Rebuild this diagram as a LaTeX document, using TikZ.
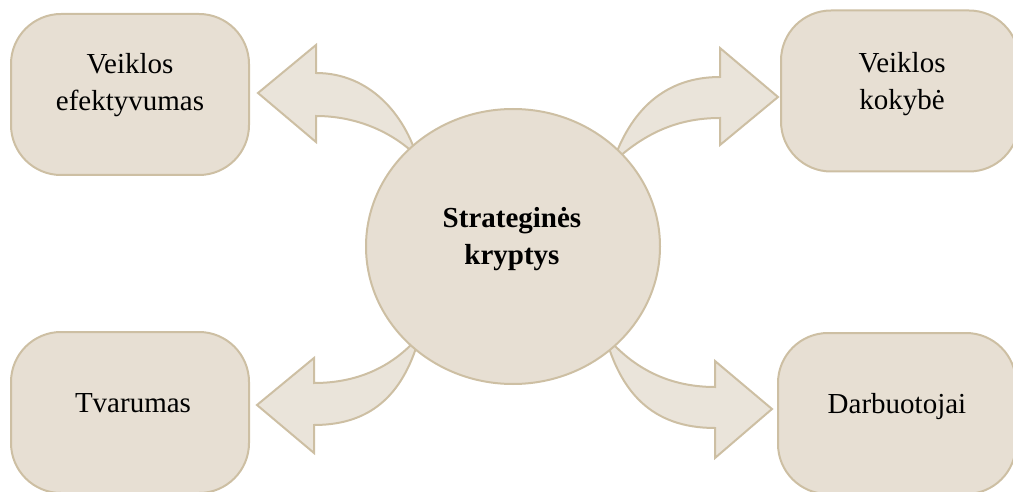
\documentclass[tikz,border=0pt]{standalone}
\usepackage{fontspec}
\setmainfont{Liberation Serif}
\usetikzlibrary{shapes.geometric}
\definecolor{boxfill}{RGB}{231,223,211}
\definecolor{arrfill}{RGB}{234,228,218}
\definecolor{edgecol}{RGB}{205,191,163}
\begin{document}
\begin{tikzpicture}[x=1pt,y=-1pt,
  box/.style={draw=edgecol,fill=boxfill,line width=2pt,rounded corners=50pt,
    minimum width=238pt,minimum height=161pt,inner sep=0pt},
  hub/.style={draw=edgecol,fill=boxfill,line width=2pt,ellipse,
    minimum width=294pt,minimum height=275pt,inner sep=0pt},
  txt/.style={font=\fontsize{29}{36}\selectfont,anchor=base,inner sep=0pt},
  btxt/.style={font=\fontsize{29}{36}\selectfont\bfseries,anchor=base,inner sep=0pt},
  blockarrow/.style={draw=edgecol,fill=arrfill,line width=2pt,line join=miter}]
\useasboundingbox (0,0) rectangle (1013,492);
% boxes
\node[box] (tl) at (130,94.5) {};
\node[box] (tr) at (900,91) {};
\node[box] (bl) at (130,412.5) {};
\node[box] (br) at (897,413.5) {};
% block arrows
\draw[blockarrow] (316,73) .. controls (370,73) and (405,115) .. (418,160) -- (425,165)
  .. controls (400,135) and (360,116) .. (316,116) -- (316,142) -- (258,93) -- (316,45) -- cycle;
\draw[blockarrow] (720,77) .. controls (665,77) and (630,110) .. (612,165) -- (605,170)
  .. controls (640,135) and (675,118) .. (720,118) -- (720,145) -- (778,97) -- (720,48) -- cycle;
\draw[blockarrow] (715,387) .. controls (665,387) and (630,365) .. (605,335)
  .. controls (620,390) and (650,428) .. (715,428) -- (715,458) -- (772,409) -- (715,361) -- cycle;
\draw[blockarrow] (314,383) .. controls (360,383) and (395,365) .. (420,335)
  .. controls (405,390) and (375,425) .. (314,425) -- (314,453) -- (257,405) -- (314,358) -- cycle;
% hub
\node[hub] (hub) at (513,246.5) {};
% texts
\node[btxt] (hub1) at (512,227) {Strateginės};
\node[btxt] (hub2) at (512,264) {kryptys};
\node[txt] (tl1) at (130,74) {Veiklos};
\node[txt] (tl2) at (130,111) {efektyvumas};
\node[txt] (tr1) at (902,73) {Veiklos};
\node[txt] (tr2) at (902,110) {kokybė};
\node[txt] (bl1) at (133,412) {Tvarumas};
\node[txt] (br1) at (897,413) {Darbuotojai};
\end{tikzpicture}
\end{document}
